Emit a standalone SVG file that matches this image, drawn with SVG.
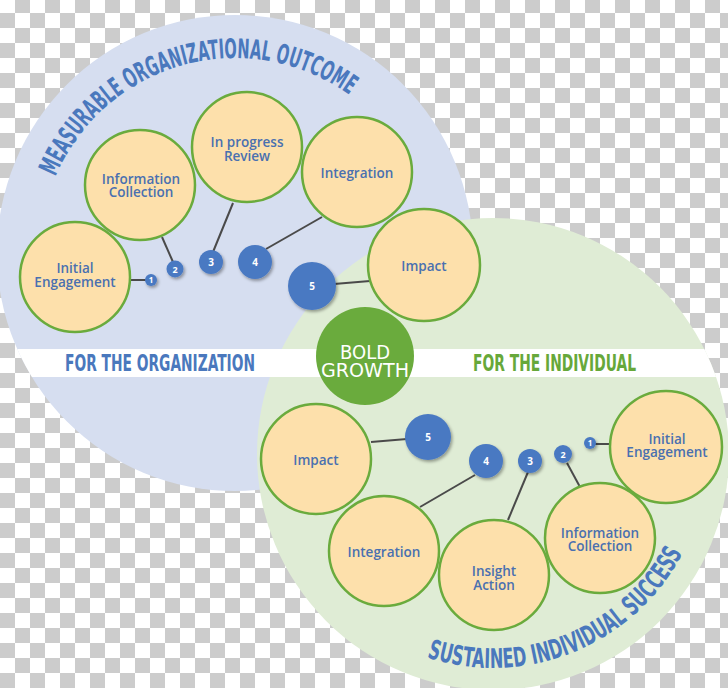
<svg xmlns="http://www.w3.org/2000/svg" xmlns:xlink="http://www.w3.org/1999/xlink" width="728" height="688" viewBox="0 0 728 688">
  <defs>
    <pattern id="checker" patternUnits="userSpaceOnUse" x="0" y="-2" width="30" height="30">
      <rect width="30" height="30" fill="#ffffff"/>
      <rect x="15" y="0" width="15" height="15" fill="#cccccc"/>
      <rect x="0" y="15" width="15" height="15" fill="#cccccc"/>
    </pattern>
    <clipPath id="union">
      <circle cx="235" cy="253" r="238"/>
      <circle cx="493" cy="454" r="236"/>
    </clipPath>
    <filter id="shadow" x="-50%" y="-50%" width="200%" height="200%">
      <feDropShadow dx="1.5" dy="2" stdDeviation="1.5" flood-color="#000" flood-opacity="0.35"/>
    </filter>
    <path id="arcTop" d="M 55.5,176.8 A 195,195 0 0 1 352.4,97.3"/>
    <path id="arcBottom" d="M 426.9,657.5 A 214,214 0 0 0 682.8,552.8"/>
  </defs>
  <style>
    .node { fill: #fde0ab; stroke: #6aab3d; stroke-width: 2.5; }
    .lbl { font-family: "Open Sans", "DejaVu Sans", sans-serif; font-weight: 600; font-size: 13.5px; fill: #4a70b0; text-anchor: middle; }
    .num { fill: #4a79c2; filter: url(#shadow); }
    .numt { font-family: "Open Sans", "DejaVu Sans", sans-serif; font-weight: 700; fill: #ffffff; text-anchor: middle; }
    .conn line { stroke: #4a4a4a; stroke-width: 2; }
    .arc { font-family: "Liberation Sans Narrow", "DejaVu Sans Condensed", "Liberation Sans", sans-serif; font-weight: 700; font-size: 27px; fill: #4a78bd; }
    .band { font-family: "Liberation Sans Narrow", "DejaVu Sans Condensed", "Liberation Sans", sans-serif; font-weight: 700; font-size: 23px; }
  </style>

  <rect width="728" height="688" fill="url(#checker)"/>

  <g id="backgrounds">
    <circle cx="235" cy="253" r="238" fill="#d6def0"/>
    <circle cx="493" cy="454" r="236" fill="#dfecd5"/>
    <rect x="0" y="349" width="728" height="28" fill="#ffffff" clip-path="url(#union)"/>
  </g>

  <g id="titles">
    <text class="arc"><textPath xlink:href="#arcTop" textLength="350" lengthAdjust="spacingAndGlyphs">MEASURABLE ORGANIZATIONAL OUTCOME</textPath></text>
    <text class="arc"><textPath xlink:href="#arcBottom" textLength="300" lengthAdjust="spacingAndGlyphs">SUSTAINED INDIVIDUAL SUCCESS</textPath></text>
    <text class="band" x="65" y="371" fill="#4a78bd" textLength="190" lengthAdjust="spacingAndGlyphs">FOR THE ORGANIZATION</text>
    <text class="band" x="473" y="371" fill="#67a83a" textLength="163" lengthAdjust="spacingAndGlyphs">FOR THE INDIVIDUAL</text>
  </g>

  <g id="connectors" class="conn">
    <line x1="131" y1="280" x2="146" y2="280"/>
    <line x1="162" y1="237" x2="173" y2="262"/>
    <line x1="233" y1="203" x2="213" y2="252"/>
    <line x1="322" y1="217" x2="266" y2="249"/>
    <line x1="334" y1="284" x2="370" y2="281"/>
    <line x1="371" y1="442" x2="407" y2="439"/>
    <line x1="475" y1="475" x2="420" y2="507"/>
    <line x1="528" y1="472" x2="508" y2="520"/>
    <line x1="567" y1="463" x2="580" y2="487"/>
    <line x1="595" y1="444" x2="610" y2="444"/>
  </g>

  <g id="bold-growth">
    <circle cx="365" cy="356" r="49" fill="#6aab3d"/>
    <text x="365" y="359" font-family="Liberation Sans Narrow, DejaVu Sans Condensed, sans-serif" font-size="19" fill="#ffffff" text-anchor="middle" textLength="50" lengthAdjust="spacingAndGlyphs">BOLD</text>
    <text x="365" y="377" font-family="Liberation Sans Narrow, DejaVu Sans Condensed, sans-serif" font-size="19" fill="#ffffff" text-anchor="middle" textLength="88" lengthAdjust="spacingAndGlyphs">GROWTH</text>
  </g>

  <g id="org-initial-engagement">
    <circle class="node" cx="75" cy="277" r="55"/>
    <text class="lbl" x="75" y="273">Initial</text>
    <text class="lbl" x="75" y="287">Engagement</text>
  </g>
  <g id="org-information-collection">
    <circle class="node" cx="140" cy="185" r="55"/>
    <text class="lbl" x="141" y="184">Information</text>
    <text class="lbl" x="141" y="197">Collection</text>
  </g>
  <g id="org-in-progress-review">
    <circle class="node" cx="247" cy="147" r="55"/>
    <text class="lbl" x="247" y="147">In progress</text>
    <text class="lbl" x="247" y="161">Review</text>
  </g>
  <g id="org-integration">
    <circle class="node" cx="357" cy="172" r="55"/>
    <text class="lbl" x="357" y="178">Integration</text>
  </g>
  <g id="org-impact">
    <circle class="node" cx="424" cy="265" r="56"/>
    <text class="lbl" x="424" y="271">Impact</text>
  </g>

  <g id="org-step-1"><circle class="num" cx="151" cy="280" r="6"/><text class="numt" x="151" y="283" font-size="8">1</text></g>
  <g id="org-step-2"><circle class="num" cx="175" cy="269" r="8.5"/><text class="numt" x="175" y="272.5" font-size="9">2</text></g>
  <g id="org-step-3"><circle class="num" cx="211" cy="262" r="12"/><text class="numt" x="211" y="266" font-size="10">3</text></g>
  <g id="org-step-4"><circle class="num" cx="255" cy="262" r="17"/><text class="numt" x="255" y="266" font-size="10">4</text></g>
  <g id="org-step-5"><circle class="num" cx="312" cy="286" r="24"/><text class="numt" x="312" y="290" font-size="10">5</text></g>

  <g id="ind-impact">
    <circle class="node" cx="316" cy="459" r="55"/>
    <text class="lbl" x="316" y="465">Impact</text>
  </g>
  <g id="ind-integration">
    <circle class="node" cx="384" cy="551" r="55"/>
    <text class="lbl" x="384" y="557">Integration</text>
  </g>
  <g id="ind-insight-action">
    <circle class="node" cx="494" cy="575" r="55"/>
    <text class="lbl" x="494" y="576">Insight</text>
    <text class="lbl" x="494" y="590">Action</text>
  </g>
  <g id="ind-information-collection">
    <circle class="node" cx="600" cy="538" r="55"/>
    <text class="lbl" x="600" y="538">Information</text>
    <text class="lbl" x="600" y="551">Collection</text>
  </g>
  <g id="ind-initial-engagement">
    <circle class="node" cx="666" cy="447" r="56"/>
    <text class="lbl" x="667" y="444">Initial</text>
    <text class="lbl" x="667" y="457">Engagement</text>
  </g>

  <g id="ind-step-5"><circle class="num" cx="428" cy="437" r="23"/><text class="numt" x="428" y="441" font-size="10">5</text></g>
  <g id="ind-step-4"><circle class="num" cx="486" cy="461" r="17"/><text class="numt" x="486" y="465" font-size="10">4</text></g>
  <g id="ind-step-3"><circle class="num" cx="530" cy="461" r="12"/><text class="numt" x="530" y="465" font-size="10">3</text></g>
  <g id="ind-step-2"><circle class="num" cx="563" cy="454" r="9"/><text class="numt" x="563" y="457.5" font-size="9">2</text></g>
  <g id="ind-step-1"><circle class="num" cx="590" cy="443" r="6"/><text class="numt" x="590" y="446" font-size="8">1</text></g>
</svg>
